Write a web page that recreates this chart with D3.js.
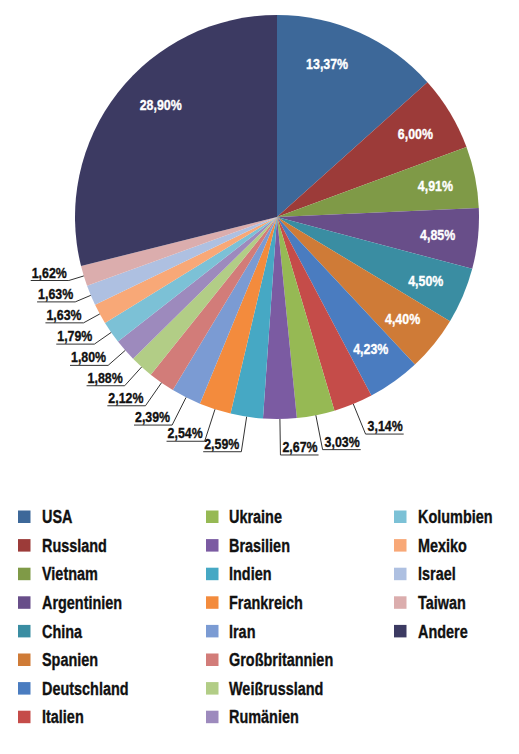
<!DOCTYPE html>
<html>
<head>
<meta charset="utf-8">
<script src="https://cdn.jsdelivr.net/npm/d3@7"></script>
<style>
  html, body { margin: 0; padding: 0; background: #fff; }
  svg text { font-family: "Liberation Sans", Arial, sans-serif; font-weight: bold; }
</style>
</head>
<body>
<svg id="chart" width="519" height="754"></svg>
<script>
const countries = ["USA","Russland","Vietnam","Argentinien","China","Spanien","Deutschland","Italien",
  "Ukraine","Brasilien","Indien","Frankreich","Iran","Großbritannien","Weißrussland","Rumänien",
  "Kolumbien","Mexiko","Israel","Taiwan","Andere"];
const shares = [13.37,6.00,4.91,4.85,4.50,4.40,4.23,3.14,3.03,2.67,2.59,2.54,2.39,2.12,1.88,1.80,1.79,1.63,1.63,1.62,28.90];
const colors = ["#3d6899","#9c3b39","#7f9a47","#684e89","#3a8da2","#cf7b37","#4a7cc0","#c54c49",
  "#96b954","#7b5ba2","#46a8c4","#f38b3d","#7b9bd3","#d27c79","#b2cd86","#9d8abd",
  "#7cc1d6","#f8a877","#aec0e1","#dbadad","#3c3a62"];

const svg = d3.select("#chart");
const cx = 277, cy = 217, R = 202;
const fmt = v => v.toFixed(2).replace(".", ",") + "%";

// draws horizontally condensed bold text at (x,y)
function ctext(parent, x, y, str, size, sx, anchor, fill, baseline) {
  const t = parent.append("text")
    .attr("transform", `translate(${x},${y}) scale(${sx},1)`)
    .attr("text-anchor", anchor)
    .attr("font-size", size)
    .attr("fill", fill)
    .attr("stroke", fill)
    .attr("stroke-width", 0.35)
    .text(str);
  if (baseline) t.attr("dominant-baseline", baseline);
  return t;
}

const data = countries.map((c, i) => ({ name: c, value: shares[i], color: colors[i] }));
const pie = d3.pie().value(d => d.value).sort(null).startAngle(0).endAngle(2 * Math.PI);
const arcs = pie(data);
const arc = d3.arc().innerRadius(0).outerRadius(R);

const g = svg.append("g").attr("transform", `translate(${cx},${cy})`);
g.selectAll("path.slice").data(arcs).join("path")
  .attr("class", "slice")
  .attr("d", arc)
  .attr("fill", d => d.data.color);

const mid = d => (d.startAngle + d.endAngle) / 2;
const inside = d => d.data.value >= 3.5;
const LS = 15.5, LSX = 0.8;

// inside labels (labels of large slices drift a little toward the top, as in the original)
const labelR = R * 0.8;
const nudge = 6 * Math.PI / 180;
arcs.filter(inside).forEach(d => {
  let a = mid(d);
  if (d.data.value > 10) {
    const signed = a > Math.PI ? a - 2 * Math.PI : a;
    a = signed - Math.sign(signed) * nudge;
  }
  ctext(g, Math.sin(a) * labelR, -Math.cos(a) * labelR, fmt(d.data.value), LS, LSX, "middle", "#fff", "central");
});

// outside labels with leader lines
const rx = 216, ry = 238;
const elbow = a => {
  const s = Math.sin(a), c = Math.cos(a);
  const r = 1 / Math.sqrt((s / rx) ** 2 + (c / ry) ** 2);
  return [s * r, -c * r];
};
arcs.filter(d => !inside(d)).forEach(d => {
  const a = mid(d);
  const p0 = [Math.sin(a) * R, -Math.cos(a) * R];
  const p1 = elbow(a);
  const right = p1[0] > 0;
  const t = ctext(g, right ? p1[0] + 2 : p1[0] - 2, p1[1] - 3, fmt(d.data.value), LS, LSX,
    right ? "start" : "end", "#111");
  const w = t.node().getComputedTextLength() * LSX + 3;
  const x2 = right ? p1[0] + w : p1[0] - w;
  g.append("path")
    .attr("d", `M${p0[0]},${p0[1]}L${p1[0]},${p1[1]}L${x2},${p1[1]}`)
    .attr("fill", "none")
    .attr("stroke", "#333")
    .attr("stroke-width", 1);
});

// legend
const colX = [18, 206, 394];
const textX = [42, 229, 418];
const rowY0 = 517, rowH = 28.6, perCol = 8;
const leg = svg.append("g");
data.forEach((d, i) => {
  const col = Math.floor(i / perCol), row = i % perCol;
  const y = rowY0 + row * rowH;
  leg.append("rect")
    .attr("x", colX[col]).attr("y", y - 6.5)
    .attr("width", 12.5).attr("height", 12.5)
    .attr("fill", d.color);
  ctext(leg, textX[col], y, d.name, 19, 0.76, "start", "#111", "central");
});
</script>
</body>
</html>
